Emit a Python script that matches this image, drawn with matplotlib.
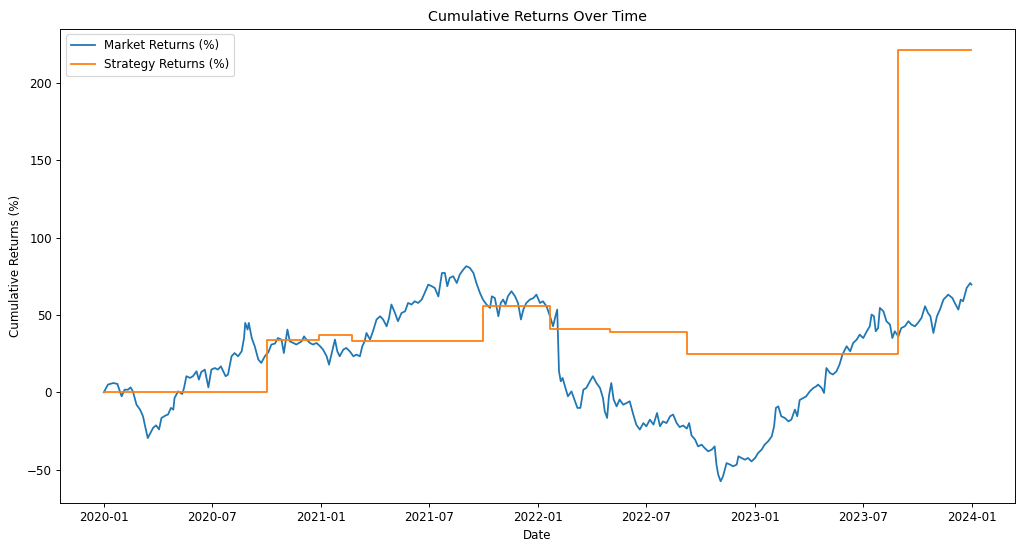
import numpy as np
import pandas as pd
import matplotlib
matplotlib.use("Agg")
import matplotlib.pyplot as plt

# --- data ---

start_date = pd.Timestamp("2020-01-01")

# market: days since 2020-01-01 and cumulative return (%)
market_day = [
    0, 7, 16, 23, 27, 30, 35, 41, 45, 49, 55, 61, 66, 69, 74, 77, 83, 88, 93, 97,
    104, 108, 113, 117, 119, 125, 132, 135, 139, 145, 150, 156, 160, 164, 170, 176,
    181, 187, 192, 197, 201, 205, 209, 215, 220, 226, 232, 236, 238, 242, 244, 249,
    254, 260, 265, 271, 277, 282, 288, 293, 299, 303, 309, 313, 319, 324, 333, 337,
    341, 347, 352, 358, 364, 369, 375, 379, 383, 389, 393, 397, 403, 408, 414, 420,
    425, 431, 435, 439, 442, 448, 453, 459, 465, 470, 476, 480, 484, 490, 495, 501,
    507, 512, 518, 523, 529, 535, 540, 546, 552, 557, 563, 569, 574, 578, 582, 588,
    594, 599, 605, 610, 616, 622, 627, 633, 638, 644, 650, 653, 658, 664, 668, 672,
    676, 680, 686, 692, 697, 702, 706, 711, 717, 723, 728, 734, 739, 745, 751, 756,
    760, 763, 766, 769, 772, 776, 781, 787, 792, 797, 802, 807, 812, 818, 823, 829,
    835, 840, 843, 847, 850, 854, 858, 863, 868, 874, 880, 885, 891, 896, 902, 908,
    913, 919, 925, 931, 936, 941, 947, 953, 958, 964, 969, 975, 981, 985, 989, 995,
    1000, 1006, 1011, 1017, 1023, 1028, 1031, 1034, 1038, 1042, 1048, 1054, 1059, 1065,
    1068, 1073, 1079, 1084, 1090, 1096, 1101, 1107, 1112, 1118, 1124, 1128, 1131, 1135,
    1140, 1146, 1152, 1157, 1163, 1167, 1171, 1177, 1182, 1188, 1194, 1199, 1202, 1208,
    1212, 1216, 1222, 1227, 1233, 1238, 1243, 1250, 1256, 1261, 1267, 1272, 1278, 1284,
    1289, 1292, 1296, 1299, 1303, 1306, 1312, 1317, 1323, 1327, 1331, 1337, 1342, 1348,
    1354, 1359, 1365, 1370, 1376, 1382, 1387, 1391, 1396, 1402, 1407, 1413, 1421, 1428,
    1432, 1438, 1442, 1446, 1452, 1458, 1460,
]
market_ret = [
    0, 5.0, 6.0, 5.4, 0.6, -2.6, 1.7, 1.7, 3.2, 0.6, -8, -11.2, -15.5, -21, -29.6, -27.4, -23, -21.4, -24, -16.6,
    -15, -14.4, -10.1, -11.2, -3.7, 0.6, -1.1, 2.8, 10.4, 9.3, 10.4, 13.6, 8.2, 13.1, 14.7, 3.2,
    14.7, 15.7, 14.7, 16.8, 13.6, 10.4, 11.5, 23.3, 25.4, 23.3, 26.5, 35.1, 44.9, 40.6, 44.9, 35.1,
    29.8, 21.2, 19, 23.3, 26, 30.9, 31.5, 35.1, 34.1, 25.4, 40.6, 33, 31.9, 30.9, 33, 36.2,
    34.1, 31.9, 30.9, 31.9, 29.8, 27.6, 23.3, 17.9, 24.4, 34.1, 26.5, 23.3, 27.6, 28.7, 26.5, 23.3,
    24.4, 23.3, 29.8, 33, 38.4, 34.1, 39.5, 47.1, 49.2, 47.1, 42.7, 48.1, 56.8, 51.3, 46, 51.3,
    52.4, 57.8, 56.8, 58.9, 57.8, 60, 64.3, 69.7, 68.6, 67.5, 62, 77.2, 77.2, 68.6, 74, 75.1,
    70.7, 76.2, 79.4, 81.6, 80.5, 77.2, 70.7, 64.3, 60, 56.8, 54.6, 62.1, 61, 49.2, 57.8, 60,
    56.8, 62.1, 65.4, 62.1, 57.8, 47.1, 53.5, 57.8, 60, 61, 63.2, 57.8, 58.9, 55.7, 49, 42.7,
    49.2, 53.5, 13.6, 7.1, 9.3, 3.9, -2.6, 0.6, -4.7, -10.1, -10.1, 1.7, 2.8, 7.1, 10.4, 6.0,
    2.8, -3.7, -12.3, -16.6, -2.6, 6.0, -4.7, -9.1, -4.7, -8, -6.9, -5.8, -14.4, -20.9, -24.1, -19.9,
    -22, -17.7, -20.9, -13.4, -22, -18.8, -19.9, -15.5, -14.4, -19.9, -22.5, -21.5, -23.5, -19.9, -27.9, -30.6,
    -35, -33.9, -36, -38.2, -37.1, -35, -46.8, -53.3, -57.6, -54.4, -45.8, -46.8, -47.9, -46.8,
    -41.4, -42.5, -43.6, -42.5, -44.7, -42.5, -39.3, -37.1, -33.9, -31.7, -28.5, -22, -10.1, -9.1,
    -15.5, -16.6, -18.8, -17.7, -11.2, -15.5, -5, -3.7, -2.6, 0.6, 2.8, 3.9, 5.0, 2.8,
    -0.4, 15.7, 12.5, 11.5, 13.6, 17.9, 24.4, 29.8, 26.5, 31.9, 34.1, 37.3, 35.1, 39.5,
    42.7, 50.3, 49.2, 39.5, 41.6, 54.6, 52.4, 46, 43.8, 35.1, 39.5, 36.2, 41.6, 42.7,
    46, 43.8, 42.7, 44.9, 48.1, 55.7, 51.3, 49.2, 38.4, 49.2, 53.5, 60, 63.2, 61,
    57.8, 53.5, 60, 58.9, 67.5, 70.7, 69.7,
]

# strategy: level holds from each date until the next one
strategy_dates = ["2020-01-01", "2020-10-01", "2020-12-28", "2021-02-22", "2021-09-30",
                  "2022-01-21", "2022-05-02", "2022-09-08", "2023-08-30", "2023-12-31"]
strategy_ret = [0, 33.9, 37.1, 33.5, 56.1, 41.0, 38.8, 24.6, 221.4, 221.4]

market_dates = start_date + pd.to_timedelta(market_day, unit="D")
strat_dates = pd.to_datetime(strategy_dates)

# --- plot ---
fig, ax = plt.subplots(figsize=(12, 549 / (1024 / 12)), dpi=1024 / 12)
fig.subplots_adjust(left=0.059, right=0.991, top=0.948, bottom=0.084)

ax.plot(market_dates, market_ret, label="Market Returns (%)")
ax.plot(strat_dates, strategy_ret, drawstyle="steps-post", label="Strategy Returns (%)")

ax.set_title("Cumulative Returns Over Time")
ax.set_xlabel("Date")
ax.set_ylabel("Cumulative Returns (%)")
ax.legend(loc="upper left")

fig.savefig("out.png")
